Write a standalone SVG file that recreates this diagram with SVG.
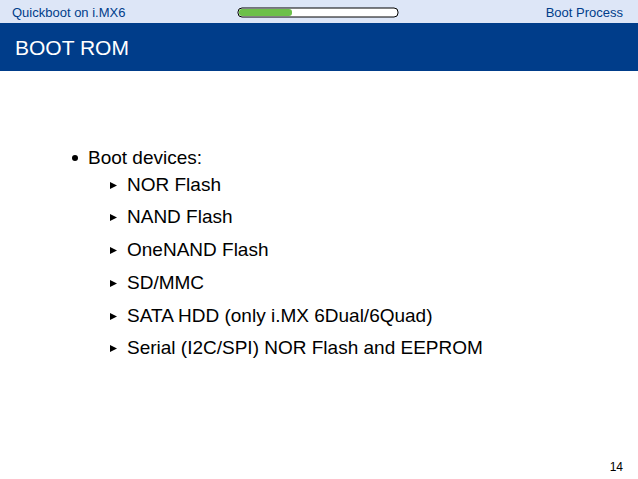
<svg xmlns="http://www.w3.org/2000/svg" width="638" height="479" viewBox="0 0 638 479">
<style>
text{font-family:"Liberation Sans",Arial,sans-serif}
.b{font-size:19px;fill:#000}
.h{font-size:13px;fill:#003d8a}
</style>
<rect width="638" height="479" fill="#fff"/>
<g id="header">
<rect x="0" y="0" width="638" height="23" fill="#dde6f7"/>
<text class="h" x="12" y="17">Quickboot on i.MX6</text>
<text class="h" x="623" y="17" text-anchor="end">Boot Process</text>
<rect x="238" y="8" width="160" height="9" rx="4" fill="#fff" stroke="#000" stroke-width="1"/>
<rect x="239" y="9" width="53" height="7" rx="3" fill="#6cc04a"/>
</g>
<g id="title">
<rect x="0" y="23" width="638" height="48" fill="#003d8a"/>
<text x="15" y="55" font-size="21" fill="#fff">BOOT ROM</text>
</g>
<g id="body">
<circle cx="75" cy="158" r="3" fill="#000"/>
<text class="b" x="88" y="164">Boot devices:</text>
<g fill="#000">
<polygon points="110,182 117,185.5 110,189"/>
<polygon points="110,214 117,217.5 110,221"/>
<polygon points="110,247 117,250.5 110,254"/>
<polygon points="110,280 117,283.5 110,287"/>
<polygon points="110,313 117,316.5 110,320"/>
<polygon points="110,345 117,348.5 110,352"/>
</g>
<text class="b" x="127" y="191">NOR Flash</text>
<text class="b" x="127" y="223">NAND Flash</text>
<text class="b" x="127" y="256">OneNAND Flash</text>
<text class="b" x="127" y="289">SD/MMC</text>
<text class="b" x="127" y="322">SATA HDD (only i.MX 6Dual/6Quad)</text>
<text class="b" x="127" y="354">Serial (I2C/SPI) NOR Flash and EEPROM</text>
</g>
<text x="623" y="471" font-size="12" text-anchor="end" fill="#000">14</text>
</svg>
